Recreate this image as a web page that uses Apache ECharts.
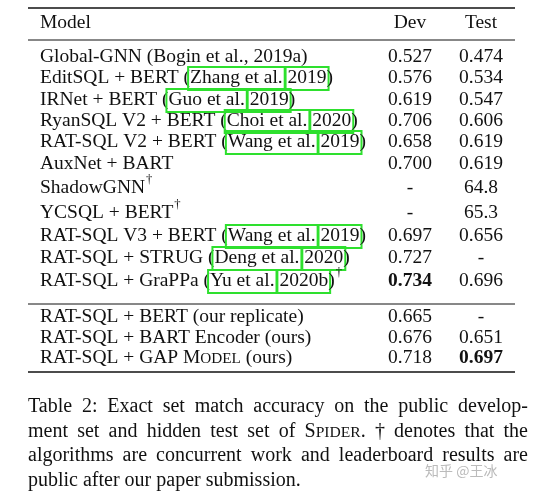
<!DOCTYPE html>
<html><head><meta charset="utf-8">
<script src="https://cdn.jsdelivr.net/npm/echarts@6/dist/echarts.min.js"></script>
<style>html,body{margin:0;background:#fff}#c{width:541px;height:494px}</style>
</head><body><div id="c"></div>
<script>
// [..] = link box, ^ = dagger superscript, {..} = small caps, * = bold
const models = [
  'Global-GNN (Bogin et al., 2019a)',
  'EditSQL + BERT ([Zhang et al.] [2019])',
  'IRNet + BERT ([Guo et al.] [2019])',
  'RyanSQL V2 + BERT ([Choi et al.] [2020])',
  'RAT-SQL V2 + BERT ([Wang et al.] [2019])',
  'AuxNet + BART',
  'ShadowGNN^',
  'YCSQL + BERT^',
  'RAT-SQL V3 + BERT ([Wang et al.] [2019])',
  'RAT-SQL + STRUG ([Deng et al.] [2020])',
  'RAT-SQL + GraPPa ([Yu et al.] [2020b])^',
  'RAT-SQL + BERT (our replicate)',
  'RAT-SQL + BART Encoder (ours)',
  'RAT-SQL + GAP M{ODEL} (ours)'
];
const devScores = ['0.527','0.576','0.619','0.706','0.658','0.700','-','-','0.697','0.727','*0.734','0.665','0.676','0.718'];
const testScores = ['0.474','0.534','0.547','0.606','0.619','0.619','64.8','65.3','0.656','-','0.696','-','0.651','*0.697'];
const headers = ['Model', 'Dev', 'Test'];
const caption = [
  'Table 2: Exact set match accuracy on the public develop-',
  'ment set and hidden test set of S{PIDER}. † denotes that the',
  'algorithms are concurrent work and leaderboard results are',
  'public after our paper submission.'
];
const watermark = '知乎 @王冰';

const rowY = [57,78,100,121,142,164,188,213,236,258,281,317,338,358];
const FS = 19.5, CFS = 20, FAM = '"Liberation Serif","DejaVu Serif",serif';
const ctx = document.createElement('canvas').getContext('2d');
const fnt = (s, w) => (w || 'normal') + ' ' + s + 'px ' + FAM;
const width = (t, s, w) => { ctx.font = fnt(s, w); return ctx.measureText(t).width; };

const els = [];
function txt(x, y, t, s, w, align) {
  els.push({type:'text', style:{x, y, text:t, font:fnt(s, w), fill:'#111', align:align||'left', verticalAlign:'middle'}});
  return width(t, s, w);
}
// measure or draw a marked-up string; returns width
function rich(x, y, str, s, dry) {
  const re = /\[([^\]]*)\]|\{([^}]*)\}|\^|([^\[\{\^]+)/g; let m, x0 = x;
  const put = (xx, yy, t, ss) => dry ? width(t, ss) : txt(xx, yy, t, ss);
  while ((m = re.exec(str))) {
    if (m[1] !== undefined) {
      const w = put(x, y, m[1], s);
      if (!dry) els.push({type:'rect', shape:{x:x-2, y:y-11, width:w+4, height:23}, style:{fill:'none', stroke:'#2ee02e', lineWidth:2}});
      x += w;
    } else if (m[2] !== undefined) x += put(x, y+1, m[2].toUpperCase(), s*0.78);
    else if (m[0] === '^') x += put(x+1, y-8, '†', s*0.65) + 1;
    else x += put(x, y, m[3], s);
  }
  return x - x0;
}
function justify(x, y, line, s, w) {
  const words = line.split(' ');
  const total = words.reduce((a, t) => a + rich(0, 0, t, s, true), 0);
  const gap = (w - total) / (words.length - 1);
  words.forEach(t => { x += rich(x, y, t, s) + gap; });
}
function score(x, y, v) { const b = v[0] === '*'; txt(x, y, b ? v.slice(1) : v, FS, b ? 'bold' : 'normal', 'center'); }

txt(40, 23, headers[0], FS); txt(410, 23, headers[1], FS, 'normal', 'center'); txt(481, 23, headers[2], FS, 'normal', 'center');
models.forEach((m, i) => { rich(40, rowY[i], m, FS); score(410, rowY[i], devScores[i]); score(481, rowY[i], testScores[i]); });
[[8,1.6],[40,1],[304,1],[372,1.6]].forEach(([y, lw]) =>
  els.push({type:'line', shape:{x1:28, y1:y, x2:515, y2:y}, style:{stroke:'#111', lineWidth:lw}}));
caption.forEach((c, i) => {
  const y = 407 + i*24.5;
  if (i < caption.length - 1) justify(28, y, c, CFS, 500); else rich(28, y, c, CFS);
});
els.push({type:'text', style:{x:425, y:471, text:watermark, font:'14px "Noto Sans CJK SC"', fill:'#bbb', verticalAlign:'middle'}});

const chart = echarts.init(document.getElementById('c'));
chart.setOption({graphic:{elements:els}});
</script></body></html>
